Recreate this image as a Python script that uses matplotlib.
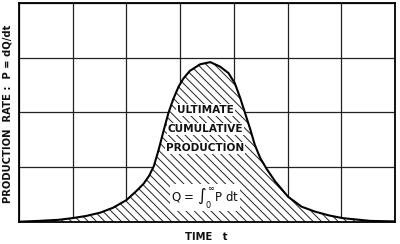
import matplotlib
matplotlib.use("Agg")
import matplotlib.pyplot as plt

# Curve points (time in grid columns, rate in grid rows)
time_pts = [0.00, 0.37, 0.74, 0.99, 1.25, 1.51, 1.75, 2.00, 2.19, 2.32, 2.42,
            2.51, 2.60, 2.69, 2.78, 2.87, 2.97, 3.06, 3.18, 3.37, 3.56, 3.74,
            3.90, 4.02, 4.12, 4.21, 4.30, 4.39, 4.49, 4.61, 4.77, 5.01, 5.26,
            5.51, 5.77, 6.03, 6.54, 7.00]
rate_pts = [0.005, 0.02, 0.04, 0.07, 0.11, 0.17, 0.26, 0.40, 0.57, 0.70, 0.84,
            1.02, 1.32, 1.66, 1.985, 2.24, 2.47, 2.62, 2.76, 2.88, 2.92, 2.84,
            2.72, 2.53, 2.26, 1.985, 1.71, 1.41, 1.17, 0.97, 0.74, 0.46, 0.28,
            0.19, 0.12, 0.07, 0.02, 0.01]

x_grid = [0, 1, 2, 3, 4, 5, 6, 7]
y_grid = [0, 1, 2, 3, 4]

labels_inside = ["ULTIMATE", "CUMULATIVE", "PRODUCTION"]
x_label = "TIME   t"
y_label = "PRODUCTION  RATE :  P = dQ/dt"
formula = r"Q = $\int_0^{\infty}$P dt"

plt.rcParams['hatch.linewidth'] = 0.7
plt.rcParams['mathtext.fontset'] = 'dejavusans'

fig = plt.figure(figsize=(4.0, 2.44), dpi=100)
ax = fig.add_axes([0.0475, 0.0902, 0.94, 0.8975])
ax.set_xlim(0, 7)
ax.set_ylim(0, 4)

for xv in x_grid:
    ax.axvline(xv, color='#222222', lw=0.9, zorder=1)
for yv in y_grid:
    ax.axhline(yv, color='#222222', lw=0.9, zorder=1)

ax.fill_between(time_pts, 0, rate_pts, facecolor='white', edgecolor='#222222',
                hatch='\\\\\\\\', linewidth=0, zorder=2)
ax.plot(time_pts, rate_pts, color='black', lw=1.5, zorder=3,
        solid_joinstyle='round')

ax.set_xticks([])
ax.set_yticks([])
for s in ax.spines.values():
    s.set_linewidth(1.3)
    s.set_zorder(4)

text_y = [2.05, 1.70, 1.35]
for lbl, ty in zip(labels_inside, text_y):
    ax.text(3.47, ty, lbl, ha='center', va='center', fontsize=7.6,
            fontweight='bold', color='#111111', zorder=5,
            bbox=dict(facecolor='white', edgecolor='none', pad=0.6))
ax.text(3.47, 0.44, formula, ha='center', va='center', fontsize=8.5,
        color='#111111', zorder=5,
        bbox=dict(facecolor='white', edgecolor='none', pad=0.6))

fig.text(0.515, 0.028, x_label, ha='center', va='center', fontsize=7.2,
         fontweight='bold', color='#111111')
fig.text(0.02, 0.535, y_label, ha='center', va='center', rotation=90,
         fontsize=7.2, fontweight='bold', color='#111111')

fig.savefig("out.png", dpi=100, facecolor='white')
